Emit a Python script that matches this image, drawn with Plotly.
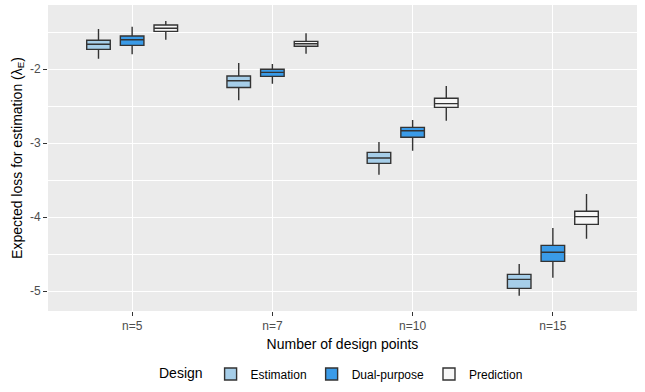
import plotly.graph_objects as go

categories = ["n=5", "n=7", "n=10", "n=15"]
designs = ["Estimation", "Dual-purpose", "Prediction"]

# Box statistics per design, one value per category
est_low = [-1.861, -2.423, -3.428, -5.064]
est_q1 = [-1.734, -2.250, -3.275, -4.964]
est_med = [-1.666, -2.158, -3.203, -4.842]
est_q3 = [-1.612, -2.095, -3.126, -4.775]
est_high = [-1.459, -1.919, -2.986, -4.635]

dual_low = [-1.801, -2.198, -3.104, -4.820]
dual_q1 = [-1.680, -2.099, -2.923, -4.599]
dual_med = [-1.604, -2.045, -2.834, -4.477]
dual_q3 = [-1.554, -2.004, -2.788, -4.383]
dual_high = [-1.428, -1.932, -2.689, -4.149]

pred_low = [-1.604, -1.793, -2.698, -4.293]
pred_q1 = [-1.491, -1.693, -2.518, -4.099]
pred_med = [-1.450, -1.658, -2.468, -3.995]
pred_q3 = [-1.405, -1.626, -2.396, -3.923]
pred_high = [-1.351, -1.518, -2.230, -3.689]

y_ticks = [-2, -3, -4, -5]

stats = {
    "Estimation": (est_low, est_q1, est_med, est_q3, est_high),
    "Dual-purpose": (dual_low, dual_q1, dual_med, dual_q3, dual_high),
    "Prediction": (pred_low, pred_q1, pred_med, pred_q3, pred_high),
}
colors = {"Estimation": "#A6CEE9", "Dual-purpose": "#3A9BE8", "Prediction": "#F7F7F7"}

fig = go.Figure()
for d in designs:
    lo, q1, med, q3, hi = stats[d]
    fig.add_trace(go.Box(
        x=categories, lowerfence=lo, q1=q1, median=med, q3=q3, upperfence=hi,
        name=d, fillcolor=colors[d],
        line=dict(color="#333333", width=1.4),
        whiskerwidth=0, boxpoints=False,
    ))

font = "Liberation Sans, Arial, sans-serif"
fig.update_layout(
    width=645, height=392,
    margin=dict(l=48, r=8, t=5, b=81, autoexpand=False),
    paper_bgcolor="white", plot_bgcolor="#EBEBEB",
    boxmode="group", boxgroupgap=0.30, boxgap=0.28,
    font=dict(family=font, size=14, color="black"),
    legend=dict(
        orientation="h", x=0.5, xanchor="center",
        yref="container", y=0.046, yanchor="middle",
        title=dict(text="Design", font=dict(size=14, color="black")),
        font=dict(size=12, color="black"), bgcolor="rgba(0,0,0,0)",
    ),
    showlegend=True,
)
fig.update_xaxes(
    type="category", categoryorder="array", categoryarray=categories,
    range=[-0.6, 3.6], automargin=False,
    title=dict(text="Number of design points", font=dict(size=14, color="black"), standoff=6),
    showgrid=True, gridcolor="white", gridwidth=1.1,
    ticks="outside", ticklen=4, tickcolor="#333333", tickwidth=1,
    tickfont=dict(size=12, color="#4D4D4D"),
    zeroline=False, showline=False,
)
fig.update_yaxes(
    range=[-5.27, -1.135], automargin=False,
    tickvals=y_ticks, ticktext=[str(v) for v in y_ticks],
    title=dict(text="Expected loss for estimation (λ<sub>E</sub>)", font=dict(size=14, color="black"), standoff=4),
    showgrid=True, gridcolor="white", gridwidth=1.1,
    minor=dict(dtick=0.5, tick0=-5.5, showgrid=True, gridcolor="white", gridwidth=0.5, ticks=""),
    ticks="outside", ticklen=4, tickcolor="#333333", tickwidth=1,
    tickfont=dict(size=12, color="#4D4D4D"),
    zeroline=False, showline=False,
)

fig.write_html(
    "out.html",
    config={"displayModeBar": False},
    post_script="document.body.style.margin='0';document.body.style.padding='0';",
)
